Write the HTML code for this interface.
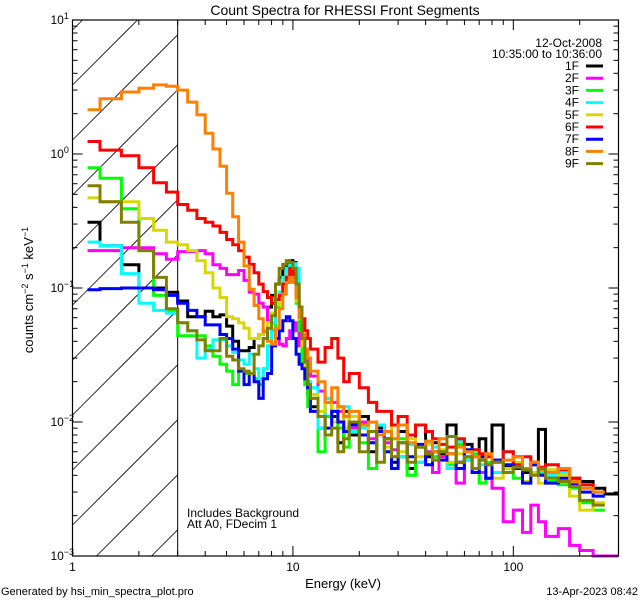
<!DOCTYPE html>
<html><head><meta charset="utf-8"><style>
html,body{margin:0;padding:0;background:#fff;width:640px;height:600px;overflow:hidden;}
svg{display:block;font-family:"Liberation Sans",sans-serif;}
</style></head><body>
<svg id="chart" width="640" height="600" viewBox="0 0 640 600" xmlns="http://www.w3.org/2000/svg" overflow="hidden">
<rect width="640" height="600" fill="#fff"/>
<g id="hatch"></g>
<g id="series"></g>
<g id="axes"></g>
<text x="345" y="15" font-size="14" text-anchor="middle">Count Spectra for RHESSI Front Segments</text>
<text x="343" y="588" font-size="13" text-anchor="middle">Energy (keV)</text>
<text transform="translate(33,290) rotate(-90)" font-size="13" text-anchor="middle">counts cm<tspan dy="-5" font-size="9">−2</tspan><tspan dy="5"> s</tspan><tspan dy="-5" font-size="9">−1</tspan><tspan dy="5"> keV</tspan><tspan dy="-5" font-size="9">−1</tspan></text>
<text x="602" y="47" font-size="12" text-anchor="end">12-Oct-2008</text>
<text x="602" y="58" font-size="12" text-anchor="end">10:35:00 to 10:36:00</text>
<text x="187" y="517" font-size="12">Includes Background</text>
<text x="187" y="528" font-size="12">Att A0, FDecim 1</text>
<text x="1" y="595" font-size="11">Generated by hsi_min_spectra_plot.pro</text>
<text x="638" y="595" font-size="11" text-anchor="end">13-Apr-2023 08:42</text>
<g id="legend"></g>
</svg>
<script>
const edges=[1.17,1.333,1.667,2,2.333,2.667,3,3.333,3.667,4,4.333,4.667,5,5.333,5.667,6,6.333,6.667,7,7.333,7.667,8,8.333,8.667,9,9.333,9.667,10,10.333,10.667,11,11.333,11.667,12,13,14,15,16,17,18,20,22,24,26,28,30,33,36,40,43,46,50,55,60,65,70,75,80,90,100,110,120,130,140,160,180,200,230,260,300];
const seriesNames=["1F","2F","3F","4F","5F","6F","7F","8F","9F"];
const seriesColors=["#000000","#ff00ff","#00ff00","#00ffff","#d8d800","#ff0000","#0000ff","#ff8000","#808000"];
const s1F=[0.31,0.207,0.149,0.10,0.10,0.093,0.08,0.061,0.061,0.067,0.061,0.063,0.052,0.04,0.034,0.034,0.036,0.042,0.045,0.048,0.072,0.088,0.107,0.12,0.14,0.15,0.16,0.155,0.107,0.063,0.037,0.019,0.016,
0.013,0.009,0.014,0.011,0.007,0.012,0.008,0.011,0.006,0.009,0.0075,0.005,0.0085,0.0045,0.0095,0.0055,0.007,0.0058,0.0095,0.005,0.0068,0.0055,0.0075,0.0048,0.0095,0.0046,0.0055,0.0042,0.0048,0.0088,0.004,0.0045,0.0038,0.0036,0.0032,0.0029];
const s2F=[0.19,0.19,0.2,0.2,0.18,0.164,0.187,0.187,0.19,0.18,0.149,0.14,0.126,0.126,0.135,0.114,0.093,0.09,0.077,0.072,0.057,0.048,0.042,0.038,0.037,0.042,0.048,0.055,0.048,0.037,0.033,0.029,0.027,
0.022,0.017,0.015,0.014,0.012,0.011,0.009,0.01,0.0075,0.0085,0.007,0.0062,0.0055,0.0068,0.005,0.006,0.0042,0.0055,0.0048,0.0035,0.0052,0.0045,0.0042,0.0038,0.0032,0.0018,0.0022,0.0015,0.0024,0.0018,0.0014,0.0016,0.0012,0.0011,0.001,0.001];
const s3F=[0.79,0.66,0.39,0.19,0.088,0.067,0.044,0.044,0.044,0.037,0.031,0.027,0.024,0.019,0.024,0.023,0.023,0.021,0.019,0.025,0.037,0.048,0.072,0.093,0.12,0.14,0.12,0.11,0.077,0.048,0.027,0.019,0.013,
0.016,0.006,0.011,0.012,0.009,0.0065,0.01,0.007,0.0045,0.008,0.0085,0.0055,0.0075,0.004,0.0065,0.007,0.0055,0.006,0.0048,0.0068,0.0052,0.0058,0.0035,0.005,0.0042,0.0052,0.0038,0.0044,0.0048,0.0042,0.0036,0.0034,0.0032,0.0025,0.0022];
const s4F=[0.22,0.207,0.128,0.077,0.068,0.065,0.055,0.048,0.03,0.035,0.041,0.041,0.037,0.033,0.029,0.027,0.032,0.025,0.021,0.025,0.037,0.055,0.077,0.093,0.12,0.14,0.15,0.152,0.14,0.072,0.037,0.025,0.02,
0.018,0.009,0.015,0.012,0.01,0.013,0.0085,0.009,0.007,0.0095,0.006,0.0075,0.0055,0.0068,0.005,0.007,0.0065,0.006,0.0045,0.0072,0.0052,0.0062,0.0048,0.0055,0.0042,0.006,0.0046,0.0044,0.005,0.0043,0.004,0.0042,0.0036,0.0032,0.0028];
const s5F=[0.47,0.44,0.44,0.33,0.27,0.22,0.21,0.19,0.16,0.13,0.10,0.085,0.061,0.059,0.055,0.05,0.042,0.042,0.045,0.048,0.055,0.065,0.075,0.088,0.107,0.12,0.13,0.115,0.08,0.059,0.037,0.025,0.019,
0.016,0.012,0.014,0.01,0.013,0.009,0.011,0.0095,0.007,0.0085,0.0065,0.0095,0.006,0.0075,0.0055,0.0068,0.006,0.0062,0.005,0.0058,0.0055,0.0045,0.0052,0.0048,0.0038,0.0045,0.005,0.0036,0.0042,0.0035,0.0044,0.004,0.0028,0.0022,0.0025];
const s6F=[1.24,1.07,0.97,0.79,0.61,0.52,0.42,0.38,0.33,0.31,0.29,0.26,0.23,0.21,0.19,0.17,0.15,0.13,0.107,0.094,0.085,0.077,0.082,0.088,0.107,0.12,0.14,0.12,0.088,0.072,0.059,0.048,0.042,
0.035,0.028,0.036,0.042,0.03,0.02,0.023,0.018,0.014,0.012,0.012,0.0095,0.011,0.008,0.0095,0.0085,0.0075,0.0068,0.0065,0.0075,0.006,0.0062,0.0058,0.0055,0.0052,0.006,0.0048,0.0055,0.005,0.0046,0.0048,0.0044,0.0038,0.0034,0.003];
const s7F=[0.097,0.099,0.10,0.10,0.097,0.088,0.077,0.068,0.061,0.053,0.053,0.045,0.042,0.035,0.024,0.019,0.023,0.02,0.015,0.021,0.023,0.037,0.042,0.048,0.057,0.061,0.057,0.042,0.032,0.027,0.025,0.021,0.018,
0.012,0.011,0.009,0.012,0.01,0.0085,0.0095,0.008,0.007,0.0085,0.006,0.0045,0.007,0.0055,0.0068,0.0048,0.006,0.0052,0.0058,0.0045,0.0062,0.0042,0.0055,0.0038,0.0052,0.0048,0.0045,0.0035,0.0048,0.004,0.0035,0.0038,0.0034,0.003,0.0028];
const s8F=[2.14,2.58,2.9,3.1,3.28,3.2,3.0,2.44,1.96,1.43,1.09,0.81,0.51,0.34,0.22,0.146,0.098,0.074,0.059,0.047,0.04,0.038,0.05,0.07,0.09,0.11,0.12,0.11,0.085,0.06,0.045,0.035,0.03,
0.024,0.02,0.014,0.018,0.013,0.011,0.012,0.0095,0.01,0.008,0.0085,0.0075,0.0095,0.007,0.0065,0.0072,0.006,0.0075,0.0058,0.0065,0.006,0.0055,0.0052,0.0058,0.005,0.0052,0.0055,0.0045,0.005,0.0044,0.0042,0.0045,0.0036,0.0032,0.003];
const s9F=[0.58,0.44,0.31,0.19,0.12,0.07,0.055,0.048,0.041,0.034,0.034,0.042,0.031,0.029,0.025,0.024,0.023,0.032,0.037,0.042,0.05,0.062,0.107,0.14,0.15,0.16,0.155,0.14,0.107,0.072,0.042,0.028,0.019,
0.015,0.011,0.008,0.009,0.006,0.0075,0.01,0.006,0.0085,0.005,0.0075,0.0055,0.007,0.005,0.0065,0.0058,0.0052,0.006,0.0078,0.005,0.0055,0.0045,0.0052,0.0048,0.005,0.0042,0.0046,0.0044,0.004,0.0045,0.0038,0.0036,0.0033,0.0026,0.0024];
const seriesValues=[s1F,s2F,s3F,s4F,s5F,s6F,s7F,s8F,s9F];
const xTicks=[1,10,100];
const xTickLabels=["1","10","100"];
const yTickExps=[1,0,-1,-2,-3];

const NS="http://www.w3.org/2000/svg";
const L=72.5,R=618.5,T=20,B=556;
const xMin=1,xMax=300,yMin=-3,yMax=1;
function xs(e){return L+(Math.log10(e)-Math.log10(xMin))/(Math.log10(xMax)-Math.log10(xMin))*(R-L);}
function ys(v){return B-(Math.log10(v)-yMin)/(yMax-yMin)*(B-T);}
function clampY(v){return Math.max(T,Math.min(B,ys(v)));}
function mk(tag,attrs,parent){const el=document.createElementNS(NS,tag);for(const k in attrs)el.setAttribute(k,attrs[k]);parent.appendChild(el);return el;}

// hatch: lines y = c - (x - L), clipped geometrically to [L,hx]x[T,B]
const hatch=document.getElementById('hatch');
const hx=xs(3);
for(let c=-25;c<B+(hx-L);c+=55){
  // x range where T<=y<=B : x in [L+c-B, L+c-T]
  const xa=Math.max(L,L+c-B), xb=Math.min(hx,L+c-T);
  if(xb<=xa)continue;
  const l=mk('line',{x1:xa,y1:c-(xa-L),x2:xb,y2:c-(xb-L),stroke:'#000','stroke-width':0.8},hatch);
  
  
}
const vl=mk('line',{x1:hx,y1:T,x2:hx,y2:B,stroke:'#000','stroke-width':1},hatch);



// series
const sgr=document.getElementById('series');
seriesValues.forEach((vals,si)=>{
  let d='';
  for(let i=0;i<vals.length;i++){
    const x0=xs(edges[i]),x1=xs(edges[i+1]),y=clampY(vals[i]);
    d+=(i===0?'M':'L')+x0.toFixed(1)+','+y.toFixed(1)+'L'+x1.toFixed(1)+','+y.toFixed(1);
  }
  const p=mk('path',{d:d,fill:'none',stroke:seriesColors[si],'stroke-width':3,'stroke-linejoin':'miter'},sgr);
  
  
});

// axes
const ax=document.getElementById('axes');
mk('rect',{x:L,y:T,width:R-L,height:B-T,fill:'none',stroke:'#000','stroke-width':1.2},ax);
for(let dec=0;dec<3;dec++){
  for(let m=1;m<10;m++){
    const e=m*Math.pow(10,dec); if(e>xMax)break;
    const x=xs(e),len=m===1?10:5;
    mk('line',{x1:x,y1:B,x2:x,y2:B-len,stroke:'#000'},ax);
    mk('line',{x1:x,y1:T,x2:x,y2:T+len,stroke:'#000'},ax);
  }
}
xTicks.forEach((t,i)=>{
  const tx=mk('text',{x:xs(t),y:B+15,'font-size':12,'text-anchor':'middle'},ax);
  tx.textContent=xTickLabels[i];
  
  
});
for(let p=-3;p<1;p++){
  for(let m=1;m<10;m++){
    const y=ys(m*Math.pow(10,p)),len=m===1?10:5;
    mk('line',{x1:L,y1:y,x2:L+len,y2:y,stroke:'#000'},ax);
    mk('line',{x1:R,y1:y,x2:R-len,y2:y,stroke:'#000'},ax);
  }
}
yTickExps.forEach(p=>{
  const y=ys(Math.pow(10,p));
  const tx=mk('text',{x:L-22,y:y+4,'font-size':12,'text-anchor':'start'},ax);
  
  
  const a=document.createElementNS(NS,'tspan');a.textContent='10';tx.appendChild(a);
  const b=document.createElementNS(NS,'tspan');b.setAttribute('dy','-5');b.setAttribute('font-size','9');
  b.textContent=p<0?'−'+(-p):String(p);tx.appendChild(b);
});

// legend
const lg=document.getElementById('legend');
seriesNames.forEach((n,i)=>{
  const y=70+i*12.2;
  const t=mk('text',{x:579,y:y,'font-size':12,'text-anchor':'end'},lg);
  t.textContent=n;
  
  
  const l=mk('line',{x1:586,y1:y-4,x2:603,y2:y-4,stroke:seriesColors[i],'stroke-width':3},lg);
  
  
});
</script>
</body></html>
